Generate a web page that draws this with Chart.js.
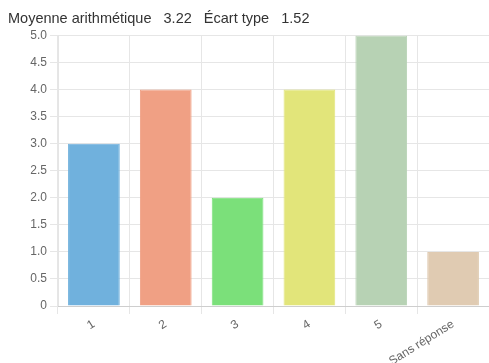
<!DOCTYPE html>
<html>
<head>
<meta charset="utf-8">
<script src="https://cdn.jsdelivr.net/npm/chart.js@4"></script>
<style>
  html, body { margin: 0; padding: 0; background: #fff; }
  #wrap { width: 489px; height: 363px; }
</style>
</head>
<body>
<div id="wrap"><canvas id="firstChart"></canvas></div>
<script>
const categories = ['1', '2', '3', '4', '5', 'Sans réponse'];
const counts = [3, 4, 2, 4, 5, 1];
const barColors = ['#70b1dd', '#f0a084', '#7be07a', '#e2e57a', '#b7d2b4', '#e0cbb2'];
const meanValue = '3.22';
const stdValue = '1.52';

var ctx = document.getElementById('firstChart').getContext('2d');
var chart = new Chart(ctx, {
    type: 'bar',
    data: {
        labels: categories,
        datasets: [{
            data: counts,
            backgroundColor: barColors,
            borderColor: barColors,
            borderWidth: 1
        }]
    },
    options: {
        responsive: true,
        maintainAspectRatio: false,
        animation: false,
        layout: { padding: { left: 8, right: 0, top: 0, bottom: 0 } },
        plugins: {
            legend: { display: false },
            tooltip: { enabled: false },
            title: {
                display: true,
                align: 'start',
                text: 'Moyenne arithmétique   ' + meanValue + '   Écart type   ' + stdValue,
                color: '#333',
                font: { family: 'Liberation Sans', size: 14.5, weight: 'normal' },
                padding: { top: 10, bottom: 8 }
            }
        },
        scales: {
            x: {
                grid: { color: '#e6e6e6', offset: true },
                afterFit: function (s) { s.height = 57; },
                ticks: {
                    color: '#666',
                    font: { family: 'Liberation Sans', size: 12 },
                    minRotation: 32,
                    maxRotation: 32
                }
            },
            y: {
                min: 0,
                max: 5,
                grid: { color: '#e6e6e6' },
                afterFit: function (s) { s.width = 50; },
                ticks: {
                    stepSize: 0.5,
                    color: '#666',
                    font: { family: 'Liberation Sans', size: 12 },
                    callback: function (v) { return v === 0 ? '0' : v.toFixed(1); }
                }
            }
        }
    }
});
</script>
</body>
</html>
